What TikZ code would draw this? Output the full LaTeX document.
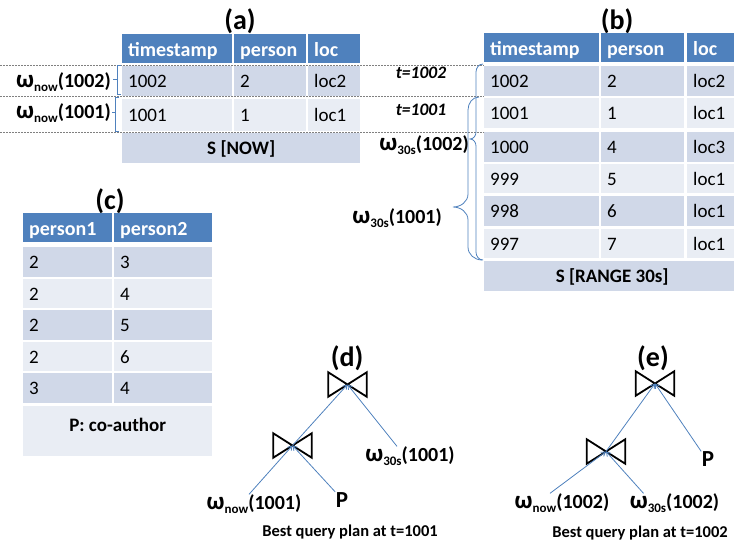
\documentclass[tikz,border=0pt]{standalone}
\usepackage{fontspec}
\setmainfont{Carlito}
\usepackage{tikz}
\usetikzlibrary{arrows.meta}

\definecolor{hdrblue}{HTML}{4F81BD}
\definecolor{rowdark}{HTML}{D0D8E8}
\definecolor{rowlight}{HTML}{E9EDF4}
\definecolor{linkblue}{HTML}{4F81BD}

% window labels
\newcommand\winsub[1]{\raisebox{-4pt}{\fontsize{13}{13}\bfseries\selectfont #1}}
\newcommand\wsym{{\fontsize{25}{25}\selectfont ω}}
\newcommand\nowwin[1]{\wsym\winsub{now}(#1)}
\newcommand\rangewin[1]{\wsym\winsub{30s}(#1)}

\tikzset{
  hdr/.style={anchor=north west,fill=hdrblue,text=white,font=\fontsize{20}{20}\bfseries\selectfont,
    minimum height=29pt,inner xsep=6pt,inner ysep=0pt,align=left,text height=16pt,text depth=0pt},
  cell/.style={anchor=north west,font=\fontsize{19}{19}\selectfont,minimum height=29.5pt,
    inner xsep=6pt,inner ysep=0pt,align=left,text height=13.5pt,text depth=0pt},
  foot/.style={anchor=north west,fill=rowdark,font=\fontsize{19}{19}\bfseries\selectfont,
    minimum height=30pt,inner sep=0pt,text height=13.5pt,text depth=0pt},
  paneltitle/.style={font=\fontsize{28}{28}\bfseries\selectfont,inner sep=0pt},
  winlabel/.style={font=\fontsize{20}{20}\bfseries\selectfont,inner sep=0pt},
  tlabel/.style={font=\fontsize{17.5}{17.5}\bfseries\itshape\selectfont,inner sep=0pt},
  leaf/.style={font=\fontsize{23}{23}\bfseries\selectfont,inner sep=0.5pt},
  plancap/.style={font=\fontsize{16.5}{16.5}\bfseries\selectfont,inner sep=0pt},
  joinop/.style={minimum width=38pt,minimum height=24pt,inner sep=0pt},
  bowtie/.style={line width=1.8pt,line join=miter},
  plan/.style={linkblue,line width=0.8pt,-{Straight Barb[length=4pt,width=5pt]}},
  brace line/.style={linkblue,line width=0.8pt},
  grid line/.style={gray,line width=0.7pt,dash pattern=on 2pt off 1pt},
}

\begin{document}
\begin{tikzpicture}[x=1pt,y=-1pt]
\useasboundingbox (0,0) rectangle (734,544);

% time instants
\draw[grid line] (0,65) -- (484,65);
\draw[grid line] (0,96.5) -- (484,96.5);
\draw[grid line] (0,132) -- (484,132);

% (a) S [NOW]
\node[paneltitle] (a-title) at (240,21) {(a)};
\node[hdr,text width=98pt] (a-h1) at (122,34) {timestamp};
\node[hdr,text width=60pt] (a-h2) at (234,34) {person};
\node[hdr,text width=40pt] (a-h3) at (308,34) {loc};
\foreach \ts/\pr/\lc/\y/\h [count=\i] in {1002/2/loc2/66/29.5, 1001/1/loc1/98.5/32}{
  \ifodd\i \def\rowfill{rowdark}\else\def\rowfill{rowlight}\fi
  \node[cell,fill=\rowfill,minimum height=\h pt,text width=98pt] (a-\i-1) at (122,\y) {\ts};
  \node[cell,fill=\rowfill,minimum height=\h pt,text width=60pt] (a-\i-2) at (234,\y) {\pr};
  \node[cell,fill=\rowfill,minimum height=\h pt,text width=40pt] (a-\i-3) at (308,\y) {\lc};
}
\node[foot,minimum width=238pt] (a-foot) at (122,133) {S [NOW]};

\node[winlabel,anchor=east] (w-now2) at (111,82) {\nowwin{1002}};
\node[winlabel,anchor=east] (w-now1) at (111,113) {\nowwin{1001}};
\draw[brace line] (121,65) -- (117,65) -- (117,94) -- (121,94) (117,79) -- (113,79);
\draw[brace line] (119,97.5) -- (115,97.5) -- (115,131) -- (119,131) (115,112) -- (111.5,112);

\node[tlabel] (t2) at (421,73) {t=1002};
\node[tlabel] (t1) at (421,110) {t=1001};

% (b) S [RANGE 30s]
\node[paneltitle] (b-title) at (617,21) {(b)};
\node[hdr,text width=103pt] (b-h1) at (484,33) {timestamp};
\node[hdr,text width=71pt] (b-h2) at (601,33) {person};
\node[hdr,text width=41pt] (b-h3) at (687,33) {loc};
\foreach \ts/\pr/\lc/\y [count=\i] in {1002/2/loc2/66, 1001/1/loc1/98, 1000/4/loc3/132,
    999/5/loc1/163.5, 998/6/loc1/196, 997/7/loc1/228.5}{
  \ifodd\i \def\rowfill{rowdark}\else\def\rowfill{rowlight}\fi
  \node[cell,fill=\rowfill,text width=103pt] (b-\i-1) at (484,\y) {\ts};
  \node[cell,fill=\rowfill,text width=71pt] (b-\i-2) at (601,\y) {\pr};
  \node[cell,fill=\rowfill,text width=41pt] (b-\i-3) at (687,\y) {\lc};
}
\node[foot,minimum width=256pt] (b-foot) at (484,261) {S [RANGE 30s]};

\draw[brace line] (483,64) to[out=180,in=90] (476,72) -- (476,132)
  to[out=-90,in=0] (470,139) to[out=0,in=90] (476,146) -- (476,252) to[out=-90,in=180] (483,260);
\draw[brace line] (479,97) to[out=180,in=90] (468,110) -- (468,194)
  to[out=-90,in=0] (453,207) to[out=0,in=90] (468,220) -- (468,247) to[out=-90,in=180] (482,260);
\node[winlabel,anchor=east] (w-rng2) at (469,145) {\rangewin{1002}};
\node[winlabel,anchor=east] (w-rng1) at (442,218) {\rangewin{1001}};

% (c) P: co-author
\node[paneltitle] (c-title) at (110,201) {(c)};
\node[hdr,text width=77pt] (c-h1) at (23,213) {person1};
\node[hdr,text width=86pt] (c-h2) at (114,213) {person2};
\foreach \pa/\pb/\y [count=\i] in {2/3/247, 2/4/278.5, 2/5/310, 2/6/341.5, 3/4/373}{
  \ifodd\i \def\rowfill{rowdark}\else\def\rowfill{rowlight}\fi
  \node[cell,fill=\rowfill,text width=77pt] (c-\i-1) at (23,\y) {\pa};
  \node[cell,fill=\rowfill,text width=86pt] (c-\i-2) at (114,\y) {\pb};
}
\node[foot,fill=rowlight,minimum width=189pt,minimum height=50pt,text depth=13pt] (c-foot) at (23,406) {P: co-author};

% (d) plan at t=1001
\node[paneltitle] (d-title) at (347,358) {(d)};
\node[joinop] (d-top) at (347.5,384.5) {};
\node[joinop] (d-low) at (292.5,445.5) {};
\node[winlabel] (d-now) at (254,504) {\nowwin{1001}};
\node[leaf] (d-p) at (342,500) {P};
\node[winlabel] (d-rng) at (410,456) {\rangewin{1001}};
\node[plancap] (d-cap) at (350,532.5) {Best query plan at t=1001};

% (e) plan at t=1002
\node[paneltitle] (e-title) at (653,358) {(e)};
\node[joinop] (e-top) at (655,383.5) {};
\node[joinop] (e-low) at (606,451.5) {};
\node[winlabel] (e-now) at (562,503) {\nowwin{1002}};
\node[winlabel] (e-rng) at (674.5,503) {\rangewin{1002}};
\node[leaf] (e-p) at (708,459.5) {P};
\node[plancap] (e-cap) at (640,533) {Best query plan at t=1002};

\foreach \j in {d-top,d-low,e-top,e-low}
  \draw[bowtie] (\j.north west) -- (\j.south east) -- (\j.north east) -- (\j.south west) -- cycle;

\draw[plan] ([xshift=-5pt]d-now.north) -- (d-low.center);
\draw[plan] (d-p.north west) -- (d-low.center);
\draw[plan] (d-low.center) -- (d-top.center);
\draw[plan] ([xshift=-13pt]d-rng.north) -- (d-top.center);

\draw[plan] ([xshift=-12pt]e-now.north) -- (e-low.center);
\draw[plan] ([xshift=-31pt]e-rng.north) -- (e-low.center);
\draw[plan] (e-low.center) -- (e-top.center);
\draw[plan] (e-p.north west) -- (e-top.center);
\end{tikzpicture}
\end{document}
